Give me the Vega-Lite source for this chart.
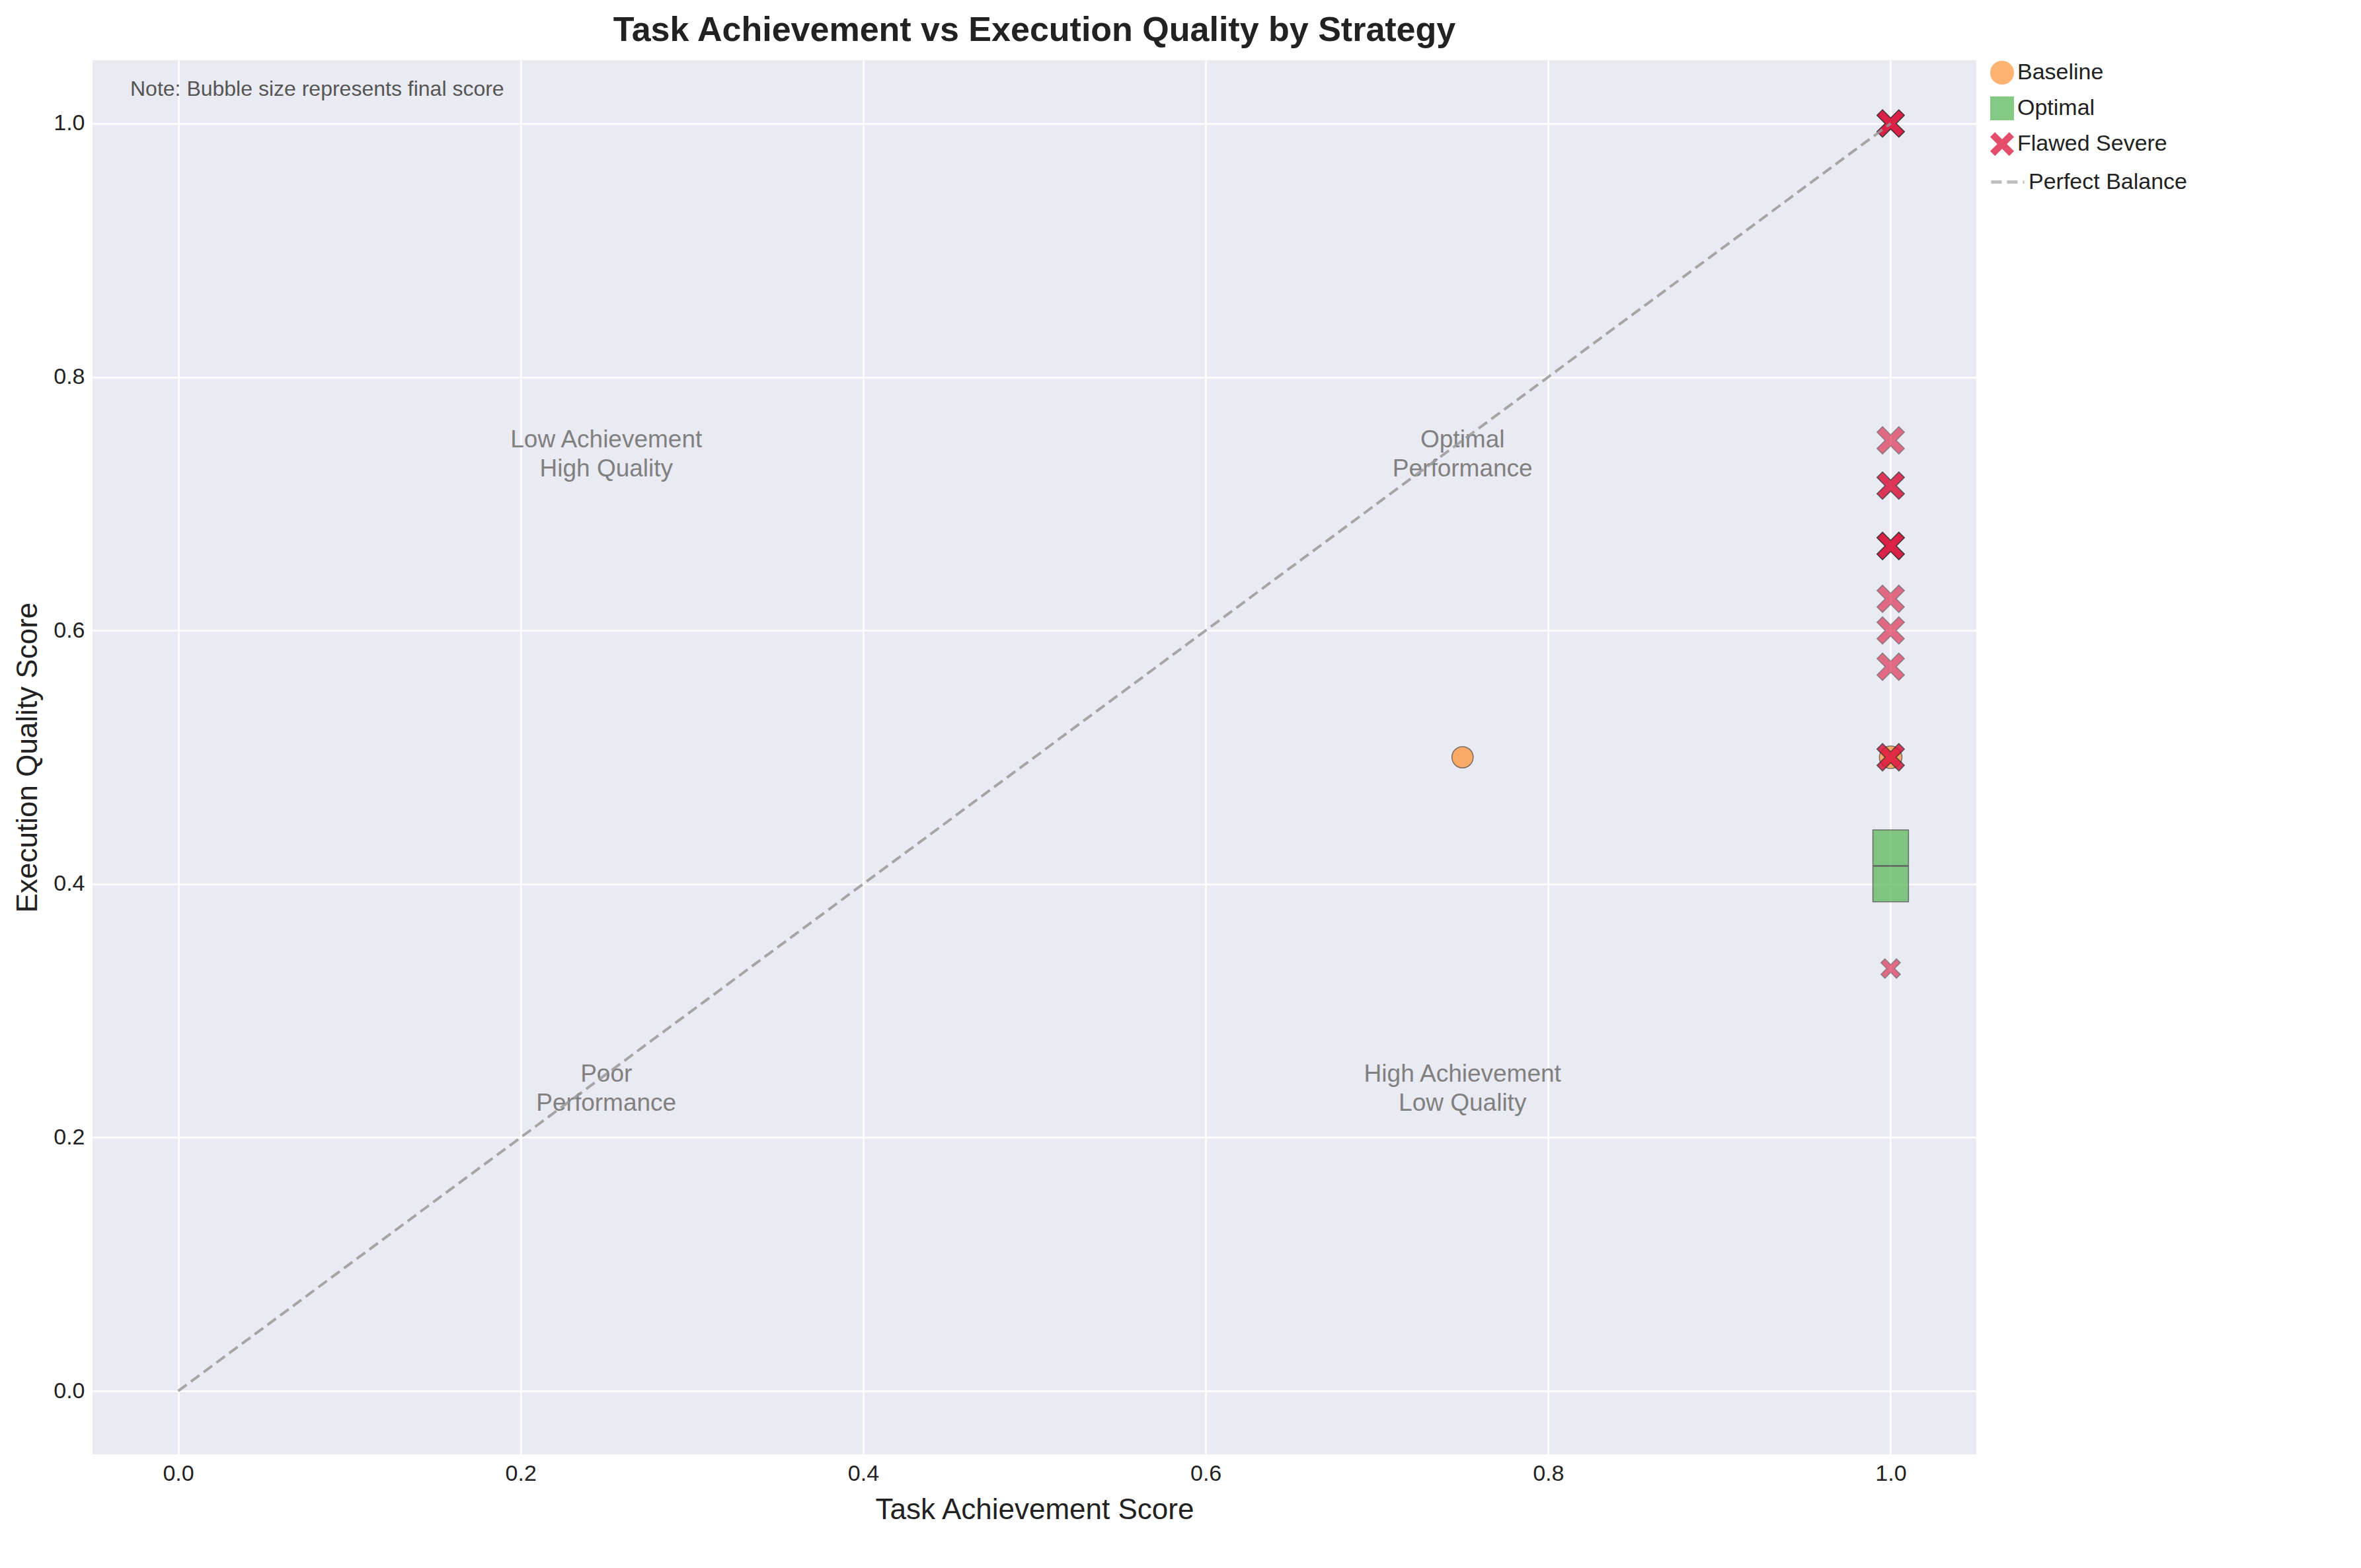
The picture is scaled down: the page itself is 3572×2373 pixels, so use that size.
{
  "$schema": "https://vega.github.io/schema/vega-lite/v6.json",
  "width": 2850,
  "height": 2110,
  "padding": {"left": 20, "top": 20, "right": 20, "bottom": 20},
  "background": "white",
  "title": {"text": "Task Achievement vs Execution Quality by Strategy", "fontSize": 52, "font": "Liberation Sans", "fontWeight": "bold", "color": "#222222", "offset": 18},
  "datasets": {
    "points": [
      {"strategy": "Baseline", "achievement": 0.75, "quality": 0.5, "score": 0.8},
      {"strategy": "Baseline", "achievement": 1.0, "quality": 0.5, "score": 0.9},
      {"strategy": "Optimal", "achievement": 1.0, "quality": 0.4286, "score": 1.0},
      {"strategy": "Optimal", "achievement": 1.0, "quality": 0.4, "score": 1.0},
      {"strategy": "Flawed Severe", "achievement": 1.0, "quality": 1.0, "score": 1.0},
      {"strategy": "Flawed Severe", "achievement": 1.0, "quality": 1.0, "score": 1.0},
      {"strategy": "Flawed Severe", "achievement": 1.0, "quality": 1.0, "score": 1.0},
      {"strategy": "Flawed Severe", "achievement": 1.0, "quality": 0.75, "score": 1.0},
      {"strategy": "Flawed Severe", "achievement": 1.0, "quality": 0.7143, "score": 1.0},
      {"strategy": "Flawed Severe", "achievement": 1.0, "quality": 0.7143, "score": 1.0},
      {"strategy": "Flawed Severe", "achievement": 1.0, "quality": 0.6667, "score": 1.0},
      {"strategy": "Flawed Severe", "achievement": 1.0, "quality": 0.6667, "score": 1.0},
      {"strategy": "Flawed Severe", "achievement": 1.0, "quality": 0.6667, "score": 1.0},
      {"strategy": "Flawed Severe", "achievement": 1.0, "quality": 0.625, "score": 1.0},
      {"strategy": "Flawed Severe", "achievement": 1.0, "quality": 0.6, "score": 1.0},
      {"strategy": "Flawed Severe", "achievement": 1.0, "quality": 0.5714, "score": 1.0},
      {"strategy": "Flawed Severe", "achievement": 1.0, "quality": 0.5, "score": 1.0},
      {"strategy": "Flawed Severe", "achievement": 1.0, "quality": 0.5, "score": 1.0},
      {"strategy": "Flawed Severe", "achievement": 1.0, "quality": 0.3333, "score": 0.5}
    ],
    "diag": [
      {"achievement": 0, "quality": 0, "series": "Perfect Balance"},
      {"achievement": 1, "quality": 1, "series": "Perfect Balance"}
    ],
    "labels": [
      {"achievement": 0.25, "quality": 0.75, "label": ["Low Achievement", "High Quality"], "bold": false},
      {"achievement": 0.75, "quality": 0.75, "label": ["Optimal", "Performance"], "bold": true},
      {"achievement": 0.25, "quality": 0.25, "label": ["Poor", "Performance"], "bold": false},
      {"achievement": 0.75, "quality": 0.25, "label": ["High Achievement", "Low Quality"], "bold": false}
    ],
    "note": [{"achievement": -0.028, "quality": 1.027, "label": "Note: Bubble size represents final score"}]
  },
  "encoding": {
    "x": {"field": "achievement", "type": "quantitative", "title": "Task Achievement Score",
      "scale": {"domain": [-0.05, 1.05], "nice": false, "zero": false},
      "axis": {"values": [0, 0.2, 0.4, 0.6, 0.8, 1.0], "format": ".1f"}},
    "y": {"field": "quality", "type": "quantitative", "title": "Execution Quality Score",
      "scale": {"domain": [-0.05, 1.05], "nice": false, "zero": false},
      "axis": {"values": [0, 0.2, 0.4, 0.6, 0.8, 1.0], "format": ".1f"}}
  },
  "layer": [
    {
      "data": {"name": "labels"},
      "mark": {"type": "text", "fontSize": 37, "font": "Liberation Sans", "color": "#808080", "lineHeight": 44, "baseline": "middle"},
      "encoding": {
        "text": {"field": "label"},
        "fontWeight": {"condition": {"test": "datum.bold", "value": "bold"}, "value": "normal"}
      }
    },
    {
      "data": {"name": "note"},
      "mark": {"type": "text", "fontSize": 32, "font": "Liberation Sans", "color": "#555555", "align": "left", "baseline": "middle"},
      "encoding": {"text": {"field": "label"}}
    },
    {
      "data": {"name": "points"},
      "transform": [{"filter": "datum.strategy == 'Baseline'"}],
      "mark": {"type": "point", "filled": true, "opacity": 0.8, "stroke": "#333333", "strokeWidth": 1.5, "strokeOpacity": 0.8},
      "encoding": {
        "color": {"field": "strategy", "type": "nominal", "sort": ["Baseline", "Optimal", "Flawed Severe"], "title": null,
          "scale": {"domain": ["Baseline", "Optimal", "Flawed Severe"], "range": ["#ff9a45", "#5cb85c", "#dc143c"]}},
        "shape": {"field": "strategy", "type": "nominal", "sort": ["Baseline", "Optimal", "Flawed Severe"], "title": null,
          "scale": {"domain": ["Baseline", "Optimal", "Flawed Severe"], "range": ["circle", "square", "M-1,-0.6L-0.6,-1L0,-0.4L0.6,-1L1,-0.6L0.4,0L1,0.6L0.6,1L0,0.4L-0.6,1L-1,0.6L-0.4,0Z"]}},
        "size": {"field": "score", "type": "quantitative", "scale": {"domain": [0, 1], "range": [0, 1300]}, "legend": null}
      }
    },
    {
      "data": {"name": "points"},
      "transform": [{"filter": "datum.strategy == 'Optimal'"}],
      "mark": {"type": "point", "filled": true, "opacity": 0.75, "stroke": "#333333", "strokeWidth": 1.5, "strokeOpacity": 0.9},
      "encoding": {
        "color": {"field": "strategy", "type": "nominal"},
        "shape": {"field": "strategy", "type": "nominal"},
        "size": {"field": "score", "type": "quantitative", "scale": {"domain": [0, 1], "range": [0, 2900]}, "legend": null}
      }
    },
    {
      "data": {"name": "points"},
      "transform": [{"filter": "datum.strategy == 'Flawed Severe'"}],
      "mark": {"type": "point", "filled": true, "opacity": 0.6, "stroke": "#222222", "strokeWidth": 1.5, "strokeOpacity": 0.8},
      "encoding": {
        "color": {"field": "strategy", "type": "nominal"},
        "shape": {"field": "strategy", "type": "nominal"},
        "size": {"field": "score", "type": "quantitative", "scale": {"domain": [0, 1], "range": [0, 1700]}, "legend": null}
      }
    },
    {
      "data": {"name": "diag"},
      "mark": {"type": "line", "strokeWidth": 4, "color": "#999999", "opacity": 0.85},
      "encoding": {
        "strokeDash": {"field": "series", "type": "nominal", "title": null,
          "scale": {"range": [[16, 8]]},
          "legend": {"symbolType": "stroke", "symbolStrokeColor": "#aaaaaa", "symbolStrokeWidth": 5, "offset": 20, "symbolSize": 2500, "padding": 0}}
      }
    }
  ],
  "resolve": {"scale": {"size": "independent"}},
  "config": {
    "font": "Liberation Sans",
    "view": {"fill": "#eaeaf2", "stroke": null},
    "axis": {"grid": true, "gridColor": "#ffffff", "gridWidth": 2.5, "domain": false, "ticks": false,
      "labelFontSize": 34, "titleFontSize": 44, "titleFontWeight": "normal", "labelColor": "#222222", "titleColor": "#222222",
      "labelPadding": 12, "titlePadding": 16},
    "legend": {"orient": "right", "title": null, "labelFontSize": 34, "symbolSize": 1300, "symbolOpacity": 0.75, "labelColor": "#222222", "rowPadding": 10, "offset": 20, "labelLimit": 600, "symbolStrokeWidth": 1.5, "symbolStrokeColor": "#333333"}
  }
}
